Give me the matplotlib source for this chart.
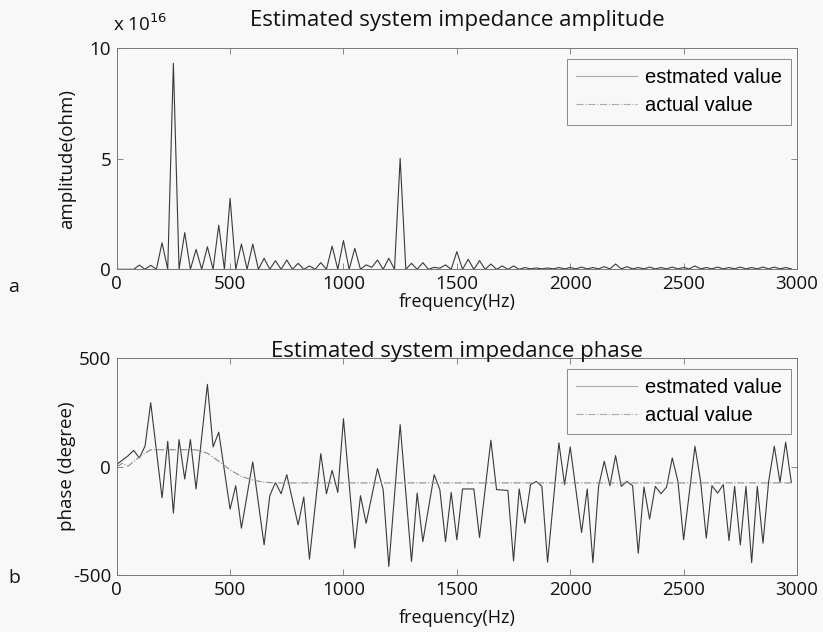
import matplotlib
matplotlib.use("Agg")
import matplotlib.pyplot as plt
from matplotlib.lines import Line2D

# ---------------- data ----------------
# amplitude (units of 1e16 ohm), estimated
amp_freq = [0, 75, 100, 125, 150, 175, 200, 225, 250, 275, 300, 325, 350, 375, 400, 425,
            450, 475, 500, 525, 550, 575, 600, 625, 650, 675, 700, 725, 750, 775, 800, 825,
            850, 875, 900, 925, 950, 975, 1000, 1025, 1050, 1075, 1100, 1125, 1150, 1175,
            1200, 1225, 1250, 1275, 1300, 1325, 1350, 1375, 1400, 1425, 1450, 1475, 1500,
            1525, 1550, 1575, 1600, 1625, 1650, 1675, 1700, 1725, 1750, 1775,
            1800, 1825, 1850, 1875, 1900, 1925, 1950, 1975, 2000, 2025, 2050, 2075, 2100,
            2125, 2150, 2175, 2200, 2225, 2250, 2275, 2300, 2325, 2350, 2375, 2400, 2425,
            2450, 2475, 2500, 2525, 2550, 2575, 2600, 2625, 2650, 2675, 2700, 2725, 2750,
            2775, 2800, 2825, 2850, 2875, 2900, 2925, 2950, 2975]
amp_est = [0, 0, 0.19, 0, 0.18, 0, 1.2, 0, 9.32, 0, 1.66, 0, 0.9, 0, 1.02, 0,
           2.0, 0, 3.21, 0, 1.14, 0, 1.14, 0, 0.5, 0, 0.39, 0, 0.42, 0, 0.27, 0,
           0.15, 0, 0.3, 0, 1.05, 0, 1.3, 0, 0.95, 0, 0.2, 0.09, 0.42, 0,
           0.5, 0, 5.02, 0, 0.27, 0, 0.3, 0, 0.09, 0.05, 0.2, 0, 0.8,
           0, 0.45, 0, 0.39, 0, 0.24, 0, 0.15, 0, 0.15, 0,
           0.08, 0.02, 0.06, 0.02, 0.06, 0.02, 0.08, 0.02, 0.08, 0.02, 0.1, 0.02, 0.08,
           0.02, 0.12, 0.02, 0.24, 0.02, 0.12, 0.02, 0.08, 0.02, 0.1, 0.02, 0.08, 0.02,
           0.1, 0.02, 0.08, 0.02, 0.15, 0.02, 0.08, 0.02, 0.1, 0.02, 0.08, 0.02, 0.1,
           0.02, 0.08, 0.02, 0.1, 0.02, 0.1, 0.02, 0.08, 0.02]
amp_act_freq = [0, 2975]
amp_act = [0, 0]

# phase (degree), estimated
ph_freq = [0, 25, 50, 75, 100, 125, 150, 200, 225, 250, 275, 300, 325, 350, 400, 425,
           450, 500, 525, 550, 600, 650, 675, 700, 725, 750, 800, 825, 850, 900, 925,
           950, 975, 1000, 1050, 1075, 1100, 1150, 1175, 1200, 1250, 1300, 1325, 1350,
           1400, 1425, 1450, 1475, 1500, 1525, 1575, 1600, 1650, 1675, 1725, 1750, 1775,
           1800, 1825, 1850, 1875, 1900, 1950, 1975, 2000, 2050, 2075, 2100, 2125, 2150,
           2175, 2200, 2225, 2250, 2275, 2300, 2325, 2350, 2375, 2400, 2425, 2450, 2475,
           2500, 2550, 2575, 2600, 2625, 2650, 2675, 2700, 2725, 2750, 2775, 2800, 2825,
           2850, 2875, 2900, 2925, 2950, 2975]
ph_est = [10, 30, 50, 75, 40, 95, 295, -144, 117, -214, 125, -57, 125, -103, 380, 91,
          159, -196, -88, -284, 22, -361, -134, -73, -125, -37, -269, -140, -427, 60, -125,
          -17, -119, 221, -376, -134, -261, -9, -106, -461, 194, -438, -122, -346,
          -37, -106, -346, -119, -338, -103, -103, -327, 122, -106, -110, -435, -103,
          -261, -83, -68, -91, -441, 110, -83, 91, -304, -103, -443, -91, 25,
          -88, 51, -91, -68, -88, -400, -94, -242, -91, -125, -94, 40, -68,
          -338, 94, -68, -330, -88, -122, -83, -341, -91, -361, -91, -443, -91,
          -353, -68, 94, -73, 113, -73]
# phase (degree), actual
ph_act_freq = [0, 25, 50, 100, 150, 350, 400, 450, 500, 550, 600, 650, 700, 2975]
ph_act = [0, 15, 2, 45, 78, 78, 62, 25, -15, -45, -62, -72, -75, -75]

x_ticks = [0, 500, 1000, 1500, 2000, 2500, 3000]
amp_ticks = [0, 5, 10]
ph_ticks = [-500, 0, 500]
legend_labels = ["estmated value", "actual value"]

# ---------------- style ----------------
BG = "#f8f8f8"
EST_C = "#3a3a3a"
ACT_C = "#8a8a8a"
FRAME_C = "#777777"
TXT = "#111111"
plt.rcParams["font.family"] = ["Open Sans", "DejaVu Sans"]
plt.rcParams["axes.unicode_minus"] = False

fig = plt.figure(figsize=(8.23, 6.32), dpi=100, facecolor=BG)

W, H = 823.0, 632.0
def axrect(l, r, t, b):
    return [l / W, 1 - b / H, (r - l) / W, (b - t) / H]

ax1 = fig.add_axes(axrect(116.7, 797, 48.3, 269.3), facecolor=BG)
ax2 = fig.add_axes(axrect(116.7, 797, 358.3, 575), facecolor=BG)

def style(ax, yt):
    ax.set_xlim(0, 3000)
    ax.set_xticks(x_ticks)
    ax.set_yticks(yt)
    ax.tick_params(direction="in", top=True, right=True, length=4, width=0.6,
                   colors=FRAME_C, labelcolor=TXT, labelsize=13.5, pad=4)
    for s in ax.spines.values():
        s.set_color(FRAME_C)
        s.set_linewidth(0.7)

# amplitude
ax1.plot(amp_freq, amp_est, color=EST_C, lw=0.8)
ax1.plot(amp_act_freq, amp_act, color=ACT_C, lw=0.8, ls="-.")
ax1.set_ylim(0, 10)
style(ax1, amp_ticks)
ax1.set_title("Estimated system impedance amplitude", fontsize=16, pad=16, color=TXT)
ax1.set_xlabel("frequency(Hz)", fontsize=13, color=TXT)
ax1.set_ylabel("amplitude(ohm)", fontsize=13.5, color=TXT)
ax1.xaxis.set_label_coords(0.5, -0.105)
ax1.yaxis.set_label_coords(-0.06, 0.5)
ax1.text(-0.006, 1.06, r"x 10$^{16}$", transform=ax1.transAxes, fontsize=13.5,
         ha="left", va="bottom", color=TXT)

# phase
ax2.plot(ph_freq, ph_est, color=EST_C, lw=0.8)
ax2.plot(ph_act_freq, ph_act, color=ACT_C, lw=0.8, ls="-.")
ax2.set_ylim(-500, 500)
style(ax2, ph_ticks)
ax2.set_title("Estimated system impedance phase", fontsize=16, pad=1, color=TXT)
ax2.set_xlabel("frequency(Hz)", fontsize=13, color=TXT)
ax2.set_ylabel("phase (degree)", fontsize=13.5, color=TXT)
ax2.xaxis.set_label_coords(0.5, -0.155)
ax2.yaxis.set_label_coords(-0.06, 0.5)

for ax in (ax1, ax2):
    handles = [Line2D([], [], color="#aaaaaa", lw=0.8),
               Line2D([], [], color="#aaaaaa", lw=0.8, ls="-.")]
    leg = ax.legend(handles, legend_labels, loc="upper right",
                    bbox_to_anchor=(0.991, 0.95), borderaxespad=0,
                    prop={"family": "Liberation Sans", "size": 14.5},
                    fancybox=False, handlelength=3.0, handletextpad=0.4,
                    labelspacing=0.45, borderpad=0.45, facecolor=BG,
                    edgecolor=FRAME_C, framealpha=1)
    leg.get_frame().set_linewidth(0.6)

fig.text(8 / W, 1 - 287 / H, "a", fontsize=14, color=TXT, va="center")
fig.text(8 / W, 1 - 578 / H, "b", fontsize=14, color=TXT, va="center")

fig.savefig("out.png", dpi=100, facecolor=BG)
